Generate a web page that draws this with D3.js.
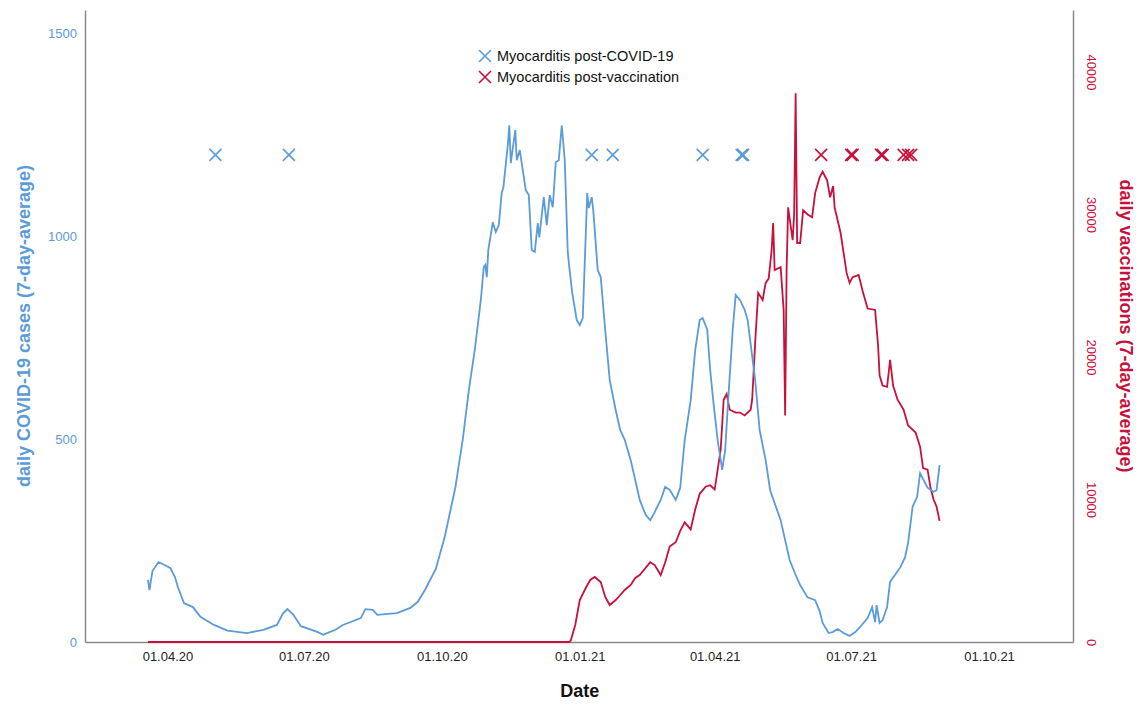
<!DOCTYPE html>
<html>
<head>
<meta charset="utf-8">
<script src="https://cdn.jsdelivr.net/npm/d3@7"></script>
<style>
  body { margin: 0; background: #fff; }
  text { font-family: Arial, "Liberation Sans", sans-serif; }
</style>
</head>
<body>
<div id="chart"></div>
<script>
// COVID-19 cases (7-day average)
const caseDates = ["2020-03-19","2020-03-20","2020-03-22","2020-03-26","2020-03-31","2020-04-03","2020-04-06","2020-04-08","2020-04-12","2020-04-18",
  "2020-04-23","2020-05-02","2020-05-11","2020-05-24","2020-06-04","2020-06-13","2020-06-17","2020-06-20","2020-06-24","2020-06-29",
  "2020-07-10","2020-07-14","2020-07-22","2020-07-27","2020-08-08","2020-08-11","2020-08-16","2020-08-19","2020-09-01","2020-09-10",
  "2020-09-15","2020-09-20","2020-09-27","2020-10-03","2020-10-10","2020-10-15","2020-10-19","2020-10-23","2020-10-27","2020-10-29",
  "2020-10-30","2020-10-31","2020-11-01","2020-11-04","2020-11-06","2020-11-08","2020-11-10","2020-11-11","2020-11-14","2020-11-15",
  "2020-11-16","2020-11-19","2020-11-20","2020-11-22","2020-11-26","2020-11-28","2020-11-30","2020-12-02","2020-12-04","2020-12-05",
  "2020-12-08","2020-12-10","2020-12-12","2020-12-14","2020-12-16","2020-12-18","2020-12-20","2020-12-22","2020-12-24","2020-12-25",
  "2020-12-27","2020-12-30","2021-01-01","2021-01-03","2021-01-04","2021-01-06","2021-01-07","2021-01-09","2021-01-10","2021-01-13",
  "2021-01-15","2021-01-18","2021-01-21","2021-01-25","2021-01-28","2021-01-31","2021-02-04","2021-02-07","2021-02-10","2021-02-14",
  "2021-02-17","2021-02-20","2021-02-24","2021-02-27","2021-03-02","2021-03-06","2021-03-09","2021-03-12","2021-03-16","2021-03-19",
  "2021-03-22","2021-03-24","2021-03-27","2021-03-29","2021-03-31","2021-04-03","2021-04-06","2021-04-08","2021-04-10","2021-04-13",
  "2021-04-15","2021-04-18","2021-04-21","2021-04-23","2021-04-28","2021-05-01","2021-05-05","2021-05-08","2021-05-15","2021-05-18",
  "2021-05-21","2021-05-25","2021-05-28","2021-06-02","2021-06-07","2021-06-10","2021-06-12","2021-06-16","2021-06-19","2021-06-22",
  "2021-06-26","2021-06-30","2021-07-04","2021-07-07","2021-07-12","2021-07-15","2021-07-17","2021-07-18","2021-07-20","2021-07-22",
  "2021-07-25","2021-07-27","2021-08-03","2021-08-06","2021-08-08","2021-08-11","2021-08-14","2021-08-16","2021-08-21","2021-08-25",
  "2021-08-27","2021-08-29"];
const caseValues = [153,128,175,197,188,182,160,135,96,86,
  62,42,28,22,30,42,70,81,67,39,
  25,18,30,42,59,81,79,67,71,84,
  99,130,180,260,380,500,620,720,842,924,
  929,899,966,1034,1010,1027,1108,1118,1224,1273,
  1180,1261,1187,1212,1113,1101,966,961,1032,997,
  1096,1027,1101,1071,1182,1187,1273,1187,961,924,
  860,793,781,798,900,1106,1069,1096,1064,916,
  899,768,645,571,522,498,448,399,350,313,
  300,320,350,382,375,350,380,497,596,719,
  793,798,770,670,596,497,424,473,596,768,
  855,842,818,793,645,522,448,374,300,251,
  202,165,140,110,103,76,47,22,25,32,
  22,15,25,37,59,86,49,91,47,54,
  86,148,185,209,244,333,357,416,380,370,
  374,436];

// daily vaccinations (7-day average)
const vaccDates = ["2020-03-19","2020-12-25","2020-12-26","2020-12-29","2021-01-01","2021-01-05","2021-01-08","2021-01-11","2021-01-15","2021-01-18",
  "2021-01-21","2021-01-25","2021-01-28","2021-01-31","2021-02-04","2021-02-07","2021-02-10","2021-02-17","2021-02-20","2021-02-24",
  "2021-02-27","2021-03-02","2021-03-06","2021-03-09","2021-03-12","2021-03-16","2021-03-19","2021-03-22","2021-03-26","2021-03-29",
  "2021-04-01","2021-04-05","2021-04-07","2021-04-09","2021-04-11","2021-04-15","2021-04-18","2021-04-21","2021-04-25","2021-04-26",
  "2021-04-28","2021-04-30","2021-05-03","2021-05-05","2021-05-07","2021-05-09","2021-05-10","2021-05-11","2021-05-15","2021-05-17",
  "2021-05-18","2021-05-19","2021-05-20","2021-05-23","2021-05-24","2021-05-25","2021-05-26","2021-05-28","2021-05-30","2021-06-02",
  "2021-06-05","2021-06-07","2021-06-10","2021-06-12","2021-06-15","2021-06-17","2021-06-19","2021-06-20","2021-06-24","2021-06-28",
  "2021-06-30","2021-07-02","2021-07-06","2021-07-09","2021-07-12","2021-07-17","2021-07-19","2021-07-20","2021-07-22","2021-07-25",
  "2021-07-27","2021-07-29","2021-08-01","2021-08-05","2021-08-08","2021-08-11","2021-08-13","2021-08-16","2021-08-18","2021-08-21",
  "2021-08-23","2021-08-25","2021-08-27","2021-08-29"];
const vaccValues = [0,0,100,1193,2948,3790,4351,4562,4211,3158,
  2597,2948,3298,3649,4000,4491,4700,5600,5400,4700,
  5600,6700,7000,7800,8400,7900,9300,10400,10900,11000,
  10700,13500,17000,17400,16300,16100,16100,15900,16300,17000,
  21000,24500,24000,25200,25500,27500,29400,26100,26300,23300,
  15900,26300,30500,28200,30000,38500,28000,28000,30300,30000,
  29800,31500,32600,33000,32400,31200,32000,30500,28700,25900,
  25200,25600,25750,24500,23400,23300,20800,18700,18000,17900,
  19800,18000,17000,16300,15200,14900,14700,13700,12200,12100,
  10800,10000,9500,8500];

// myocarditis cases (marker dates)
const myoCovidDates = ["2020-05-03","2020-06-21","2021-01-09","2021-01-23","2021-03-24","2021-04-19","2021-04-20"];
const myoVaccDates = ["2021-06-11","2021-07-01","2021-07-02","2021-07-21","2021-07-22","2021-08-05","2021-08-08","2021-08-10"];
const markerLevel = 1200;

const xTicks = ["2020-04-01","2020-07-01","2020-10-01","2021-01-01","2021-04-01","2021-07-01","2021-10-01"];
const leftTicks = [0, 500, 1000, 1500];
const rightTicks = [0, 10000, 20000, 30000, 40000];

const legendLabels = ["Myocarditis post-COVID-19", "Myocarditis post-vaccination"];

const blue = "#5b9bd9", red = "#c8103c";
const width = 1139, height = 705;
const margin = { top: 10, right: 66, bottom: 63, left: 85 };

const parse = d3.utcParse("%Y-%m-%d");
const fmt = d3.utcFormat("%d.%m.%y");

const svg = d3.select("#chart").append("svg")
    .attr("width", width)
    .attr("height", height);

const x = d3.scaleUtc()
    .domain([parse("2020-02-06"), parse("2021-11-26")])
    .range([margin.left, width - margin.right]);

const yLeft = d3.scaleLinear()
    .domain([0, 1557])
    .range([height - margin.bottom, margin.top]);

const yRight = d3.scaleLinear()
    .domain([0, 44350])
    .range([height - margin.bottom, margin.top]);

const cases = caseDates.map((d, i) => ({ date: parse(d), v: caseValues[i] }));
const vacc = vaccDates.map((d, i) => ({ date: parse(d), v: vaccValues[i] }));

// axes
const xAxis = svg.append("g")
    .attr("transform", `translate(0, ${height - margin.bottom})`)
    .call(d3.axisBottom(x).tickValues(xTicks.map(parse)).tickFormat(fmt).tickSize(0).tickPadding(10));
xAxis.select(".domain").attr("stroke", "#888").attr("stroke-width", 1.5);
xAxis.selectAll("text").attr("font-size", 13).attr("fill", "#222");

const leftAxis = svg.append("g")
    .attr("transform", `translate(${margin.left}, 0)`)
    .call(d3.axisLeft(yLeft).tickValues(leftTicks).tickSize(0).tickPadding(8).tickFormat(d3.format("d")));
leftAxis.select(".domain").attr("stroke", "#888").attr("stroke-width", 1.5);
leftAxis.selectAll("text").attr("font-size", 13).attr("fill", blue);

const rightAxis = svg.append("g")
    .attr("transform", `translate(${width - margin.right}, 0)`)
    .call(d3.axisRight(yRight).tickValues(rightTicks).tickSize(0).tickFormat(d3.format("d")));
rightAxis.select(".domain").attr("stroke", "#888").attr("stroke-width", 1.5);
rightAxis.selectAll("text")
    .attr("font-size", 13).attr("fill", red)
    .attr("text-anchor", "middle")
    .attr("x", 0).attr("dy", 0)
    .attr("transform", "translate(14, 0) rotate(90)");

// axis titles
svg.append("text")
    .attr("transform", `translate(24, ${(margin.top + height - margin.bottom) / 2}) rotate(-90)`)
    .attr("text-anchor", "middle").attr("dominant-baseline", "central")
    .attr("font-size", 18).attr("font-weight", "bold").attr("fill", blue)
    .text("daily COVID-19 cases (7-day-average)");

svg.append("text")
    .attr("transform", `translate(1126, ${(margin.top + height - margin.bottom) / 2}) rotate(90)`)
    .attr("text-anchor", "middle").attr("dominant-baseline", "central")
    .attr("font-size", 18).attr("font-weight", "bold").attr("fill", red)
    .text("daily vaccinations (7-day-average)");

svg.append("text")
    .attr("x", x(parse("2021-01-01"))).attr("y", 691)
    .attr("text-anchor", "middle").attr("dominant-baseline", "central")
    .attr("font-size", 18).attr("font-weight", "bold").attr("fill", "#111")
    .text("Date");

// lines
svg.append("path")
    .datum(vacc)
    .attr("fill", "none").attr("stroke", red).attr("stroke-width", 1.8)
    .attr("d", d3.line().x(d => x(d.date)).y(d => yRight(d.v)));

svg.append("path")
    .datum(cases)
    .attr("fill", "none").attr("stroke", blue).attr("stroke-width", 1.8)
    .attr("d", d3.line().x(d => x(d.date)).y(d => yLeft(d.v)));

// X markers
function cross(g, cx, cy, color, s) {
  g.append("path")
    .attr("d", `M${cx - s},${cy - s}L${cx + s},${cy + s}M${cx - s},${cy + s}L${cx + s},${cy - s}`)
    .attr("stroke", color).attr("stroke-width", 1.6).attr("fill", "none");
}
const markers = svg.append("g");
myoCovidDates.forEach(d => cross(markers, x(parse(d)), yLeft(markerLevel), blue, 6));
myoVaccDates.forEach(d => cross(markers, x(parse(d)), yLeft(markerLevel), red, 6));

// legend
const legend = svg.append("g");
[blue, red].forEach((c, i) => {
  const ly = 56 + i * 21;
  cross(legend, 485, ly, c, 6);
  legend.append("text")
    .attr("x", 497).attr("y", ly)
    .attr("dominant-baseline", "central")
    .attr("font-size", 14.5).attr("fill", "#111")
    .text(legendLabels[i]);
});
</script>
</body>
</html>
